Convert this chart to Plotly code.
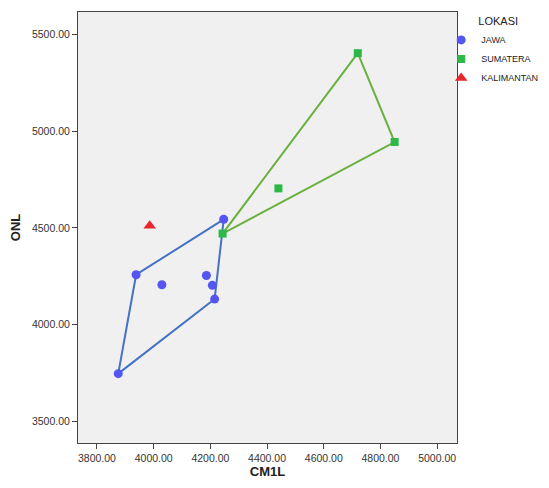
import plotly.graph_objects as go

# ---- data ----
jawa_x = [4247, 3938, 4029, 4186, 4207, 4215, 3875]
jawa_y = [4545, 4258, 4206, 4254, 4203, 4132, 3746]
sumatera_x = [4243, 4440, 4720, 4850]
sumatera_y = [4471, 4705, 5405, 4945]
kalimantan_x = [3986]
kalimantan_y = [4512]

x_ticks = [3800, 4000, 4200, 4400, 4600, 4800, 5000]
y_ticks = [3500, 4000, 4500, 5000, 5500]


def convex_hull(xs, ys):
    pts = sorted(set(zip(xs, ys)))
    if len(pts) <= 2:
        return pts

    def cross(o, a, b):
        return (a[0] - o[0]) * (b[1] - o[1]) - (a[1] - o[1]) * (b[0] - o[0])

    lower, upper = [], []
    for p in pts:
        while len(lower) >= 2 and cross(lower[-2], lower[-1], p) <= 0:
            lower.pop()
        lower.append(p)
    for p in reversed(pts):
        while len(upper) >= 2 and cross(upper[-2], upper[-1], p) <= 0:
            upper.pop()
        upper.append(p)
    hull = lower[:-1] + upper[:-1]
    hull.append(hull[0])
    return hull


fig = go.Figure()

for xs, ys, col in [(jawa_x, jawa_y, "#4472C4"), (sumatera_x, sumatera_y, "#6AB03E")]:
    h = convex_hull(xs, ys)
    fig.add_trace(go.Scatter(x=[p[0] for p in h], y=[p[1] for p in h], mode="lines",
                             line=dict(color=col, width=2), showlegend=False, hoverinfo="skip"))

fig.add_trace(go.Scatter(x=jawa_x, y=jawa_y, mode="markers", name="JAWA",
                         marker=dict(symbol="circle", size=9, color="#5555F2")))
fig.add_trace(go.Scatter(x=sumatera_x, y=sumatera_y, mode="markers", name="SUMATERA",
                         marker=dict(symbol="square", size=8, color="#2EB848")))
fig.add_trace(go.Scatter(x=kalimantan_x, y=kalimantan_y, mode="markers", name="KALIMANTAN",
                         marker=dict(symbol="triangle-up", size=11, color="#E8262D")))

axis_common = dict(
    showline=True, linecolor="#444444", linewidth=1, mirror=True,
    ticks="outside", ticklen=5, tickcolor="#444444", tickwidth=1,
    showgrid=False, zeroline=False, tickformat=".2f",
    tickfont=dict(family="Liberation Sans, Arial, sans-serif", size=10.5, color="#333333"),
)

fig.update_layout(
    width=541, height=480,
    margin=dict(l=70, r=92, t=4, b=45, autoexpand=False),
    paper_bgcolor="white", plot_bgcolor="#F0F0F0",
    font=dict(family="Liberation Sans, Arial, sans-serif", color="#222222"),
    xaxis=dict(range=[3733, 5070], tickvals=x_ticks,
               title=dict(text="<b>CM1L</b>", font=dict(size=13, color="#222222"), standoff=1),
               **axis_common),
    yaxis=dict(range=[3387, 5618], tickvals=y_ticks,
               title=dict(text="<b>ONL</b>", font=dict(size=13, color="#222222"), standoff=8),
               **axis_common),
    legend=dict(x=0.99, xanchor="left", y=1.002, yanchor="top",
                bgcolor="rgba(0,0,0,0)",
                font=dict(size=9, color="#222222"),
                title=dict(text="LOKASI", side="top center", font=dict(size=11, color="#222222")),
                itemwidth=30, tracegroupgap=0, indentation=-12),
)

fig.write_html("out.html")
